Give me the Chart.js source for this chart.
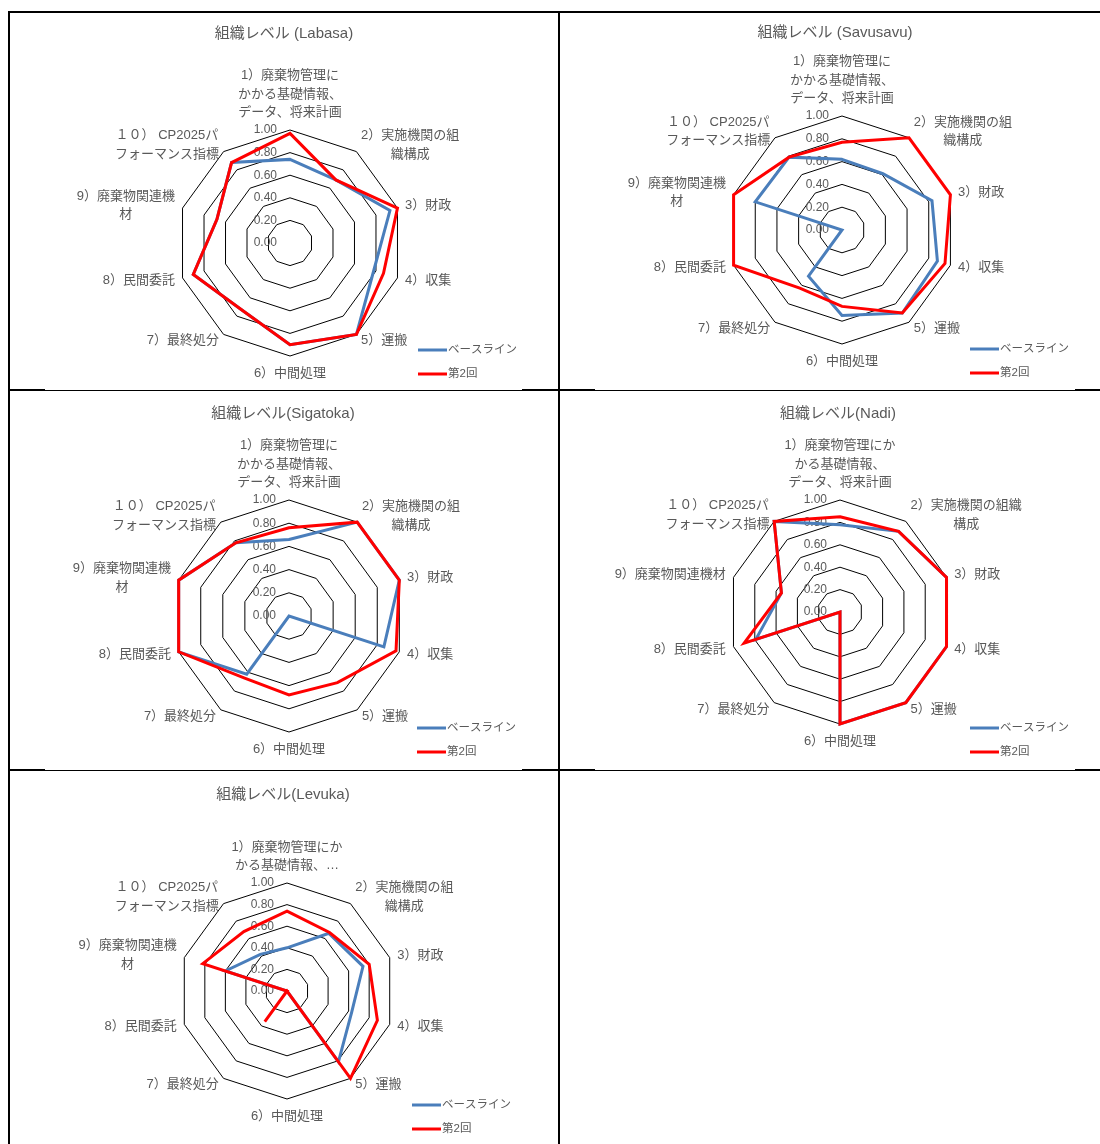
<!DOCTYPE html>
<html lang="ja">
<head>
<meta charset="utf-8">
<title>組織レベル</title>
<script src="https://cdn.jsdelivr.net/npm/chart.js@4.4.0/dist/chart.umd.min.js"></script>
<style>
  html, body { margin: 0; padding: 0; background: #fff; }
  #page { position: relative; width: 1100px; height: 1144px; overflow: hidden; background: #fff; }
  #page canvas { position: absolute; }
  .rule { position: absolute; background: #000; }
</style>
</head>
<body>
<div id="page"></div>
<script>
// ---- axis labels -------------------------------------------------------
const AXIS_LABELS = [
  ['1）廃棄物管理に', 'かかる基礎情報、', 'データ、将来計画'],
  ['2）実施機関の組', '織構成'],
  '3）財政',
  '4）収集',
  '5）運搬',
  '6）中間処理',
  '7）最終処分',
  '8）民間委託',
  ['9）廃棄物関連機', '材'],
  ['１０） CP2025パ', 'フォーマンス指標']
];
const AXIS_LABELS_NADI = [
  ['1）廃棄物管理にか', 'かる基礎情報、', 'データ、将来計画'],
  ['2）実施機関の組織', '構成'],
  '3）財政',
  '4）収集',
  '5）運搬',
  '6）中間処理',
  '7）最終処分',
  '8）民間委託',
  '9）廃棄物関連機材',
  ['１０） CP2025パ', 'フォーマンス指標']
];
const AXIS_LABELS_LEVUKA = [
  ['1）廃棄物管理にか', 'かる基礎情報、…'],
  ['2）実施機関の組', '織構成'],
  '3）財政',
  '4）収集',
  '5）運搬',
  '6）中間処理',
  '7）最終処分',
  '8）民間委託',
  ['9）廃棄物関連機', '材'],
  ['１０） CP2025パ', 'フォーマンス指標']
];

// ---- series ------------------------------------------------------------
const SERIES_NAMES = ['ベースライン', '第2回'];
const TICK_LABELS = ['0.00', '0.20', '0.40', '0.60', '0.80', '1.00'];

const LABASA_BASE     = [0.74, 0.69, 0.93, 0.78, 1.00, 0.90, 0.73, 0.90, 0.68, 0.88];
const LABASA_ROUND2   = [0.97, 0.69, 1.00, 0.87, 1.00, 0.90, 0.73, 0.90, 0.68, 0.88];

const SAVUSAVU_BASE   = [0.62, 0.61, 0.83, 0.88, 0.90, 0.75, 0.50, 0.00, 0.80, 0.79];
const SAVUSAVU_ROUND2 = [0.77, 1.00, 1.00, 0.95, 0.90, 0.67, 0.63, 1.00, 1.00, 0.79];

const SIGATOKA_BASE   = [0.66, 1.00, 1.00, 0.86, 0.00, 0.00, 0.62, 1.00, 1.00, 0.78];
const SIGATOKA_ROUND2 = [0.76, 1.00, 1.00, 0.97, 0.71, 0.68, 0.66, 1.00, 1.00, 0.78];

const NADI_BASE       = [0.78, 0.89, 1.00, 1.00, 1.00, 1.00, 0.00, 0.79, 0.55, 1.00];
const NADI_ROUND2     = [0.85, 0.89, 1.00, 1.00, 1.00, 1.00, 0.00, 0.90, 0.55, 1.00];

const LEVUKA_BASE     = [0.40, 0.66, 0.74, 0.63, 0.81, 0.00, 0.00, 0.00, 0.60, 0.42];
const LEVUKA_ROUND2   = [0.74, 0.67, 0.80, 0.88, 1.00, 0.00, 0.35, 0.00, 0.82, 0.68];

// ---- styling -----------------------------------------------------------
const FONT_FAMILY = '"Liberation Sans", "Noto Sans CJK JP", sans-serif';
const TEXT_GREY = '#595959';
const SERIES_COLORS = ['#4A7EBB', '#FF0000'];

// panel frames: canvas box, radar centre/radius, title and legend anchors
const PANELS = [
  { title: '組織レベル (Labasa)',   labels: AXIS_LABELS,        base: LABASA_BASE,   round2: LABASA_ROUND2,
    box: [9, 13, 549, 376],  center: [281, 230], radius: 113, titleAt: [275, 21], legendAt: [409, 337] },
  { title: '組織レベル (Savusavu)', labels: AXIS_LABELS,        base: SAVUSAVU_BASE, round2: SAVUSAVU_ROUND2,
    box: [560, 13, 540, 376], center: [282, 217], radius: 114, titleAt: [275, 20], legendAt: [410, 336] },
  { title: '組織レベル(Sigatoka)',  labels: AXIS_LABELS,        base: SIGATOKA_BASE, round2: SIGATOKA_ROUND2,
    box: [9, 391, 549, 378], center: [280, 225], radius: 116, titleAt: [274, 23], legendAt: [408, 337] },
  { title: '組織レベル(Nadi)',      labels: AXIS_LABELS_NADI,   base: NADI_BASE,     round2: NADI_ROUND2,
    box: [560, 391, 540, 378], center: [280, 221], radius: 112, titleAt: [278, 23], legendAt: [410, 337] },
  { title: '組織レベル(Levuka)',    labels: AXIS_LABELS_LEVUKA, base: LEVUKA_BASE,   round2: LEVUKA_ROUND2,
    box: [9, 771, 549, 373], center: [278, 220], radius: 108, titleAt: [274, 24], legendAt: [403, 334] }
];

// table rules: [left, top, width, height]
const RULES = [
  [8, 11, 1092, 2], [8, 11, 2, 1133], [558, 11, 2, 1133],
  [8, 389, 37, 2], [45, 390, 477, 1], [522, 389, 73, 2], [595, 390, 480, 1], [1075, 389, 25, 2],
  [8, 769, 37, 2], [45, 770, 477, 1], [522, 769, 73, 2], [595, 770, 480, 1], [1075, 769, 25, 2]
];

// Draws tick values, category labels, title and legend around the radar.
const radarDecor = {
  id: 'radarDecor',
  beforeDatasetsDraw(chart) {
    const s = chart.scales.r;
    const ctx = chart.ctx;
    ctx.save();
    ctx.font = '12px ' + FONT_FAMILY;
    ctx.fillStyle = TEXT_GREY;
    ctx.textAlign = 'right';
    ctx.textBaseline = 'middle';
    s.ticks.forEach((t, i) => {
      const d = s.getDistanceFromCenterForValue(t.value);
      ctx.fillText(TICK_LABELS[i], s.xCenter - 13, s.yCenter - d);
    });
    ctx.restore();
  },
  afterDraw(chart, args, opts) {
    const s = chart.scales.r;
    const ctx = chart.ctx;
    const labels = chart.data.labels;
    const n = labels.length;
    const LH = 18.5;
    ctx.save();
    ctx.fillStyle = TEXT_GREY;

    // category labels
    ctx.font = '13px ' + FONT_FAMILY;
    ctx.textAlign = 'center';
    ctx.textBaseline = 'middle';
    labels.forEach((lab, i) => {
      const lines = Array.isArray(lab) ? lab : [lab];
      const p = s.getPointPosition(i, s.drawingArea + 8);
      const deg = Math.round(i * 360 / n);
      const bw = Math.max(...lines.map(l => ctx.measureText(l).width));
      const bh = lines.length * LH;
      let cx, top;
      if (deg === 0) { cx = p.x; top = p.y - bh; }
      else if (deg === 180) { cx = p.x; top = p.y; }
      else if (deg < 180) { cx = p.x + bw / 2; top = p.y - bh / 2; }
      else { cx = p.x - bw / 2; top = p.y - bh / 2; }
      lines.forEach((l, k) => ctx.fillText(l, cx, top + LH * (k + 0.5)));
    });

    // title
    ctx.font = '15px ' + FONT_FAMILY;
    ctx.fillText(opts.title, opts.titleAt[0], opts.titleAt[1]);

    // legend
    ctx.font = '11.5px ' + FONT_FAMILY;
    ctx.textAlign = 'left';
    chart.data.datasets.forEach((ds, k) => {
      const x = opts.legendAt[0];
      const y = opts.legendAt[1] + k * 24;
      ctx.strokeStyle = ds.borderColor;
      ctx.lineWidth = 3;
      ctx.beginPath();
      ctx.moveTo(x, y);
      ctx.lineTo(x + 29, y);
      ctx.stroke();
      ctx.fillText(ds.label, x + 30, y);
    });
    ctx.restore();
  }
};

const page = document.getElementById('page');

PANELS.forEach(panel => {
  const [left, top, w, h] = panel.box;
  const canvas = document.createElement('canvas');
  canvas.width = w;
  canvas.height = h;
  canvas.style.left = left + 'px';
  canvas.style.top = top + 'px';
  canvas.style.width = w + 'px';
  canvas.style.height = h + 'px';
  page.appendChild(canvas);

  const [cx, cy] = panel.center;
  const R = panel.radius;

  new Chart(canvas, {
    type: 'radar',
    data: {
      labels: panel.labels,
      datasets: [
        { label: SERIES_NAMES[0], data: panel.base,   borderColor: SERIES_COLORS[0], order: 1 },
        { label: SERIES_NAMES[1], data: panel.round2, borderColor: SERIES_COLORS[1], order: 0 }
      ]
    },
    options: {
      responsive: false,
      animation: false,
      devicePixelRatio: 1,
      layout: { padding: { left: cx - R, top: cy - R, right: w - cx - R, bottom: h - cy - R } },
      elements: {
        line: { borderWidth: 3, tension: 0, fill: false, borderJoinStyle: 'miter' },
        point: { radius: 0, hoverRadius: 0 }
      },
      plugins: {
        legend: { display: false },
        title: { display: false },
        tooltip: { enabled: false },
        radarDecor: { title: panel.title, titleAt: panel.titleAt, legendAt: panel.legendAt }
      },
      scales: {
        r: {
          min: 0,
          max: 1,
          ticks: { display: false, stepSize: 0.2 },
          pointLabels: { display: false },
          angleLines: { display: false },
          grid: { color: '#000000', lineWidth: 1 }
        }
      }
    },
    plugins: [radarDecor]
  });
});

RULES.forEach(([l, t, w, h]) => {
  const d = document.createElement('div');
  d.className = 'rule';
  d.style.left = l + 'px';
  d.style.top = t + 'px';
  d.style.width = w + 'px';
  d.style.height = h + 'px';
  page.appendChild(d);
});
</script>
</body>
</html>
